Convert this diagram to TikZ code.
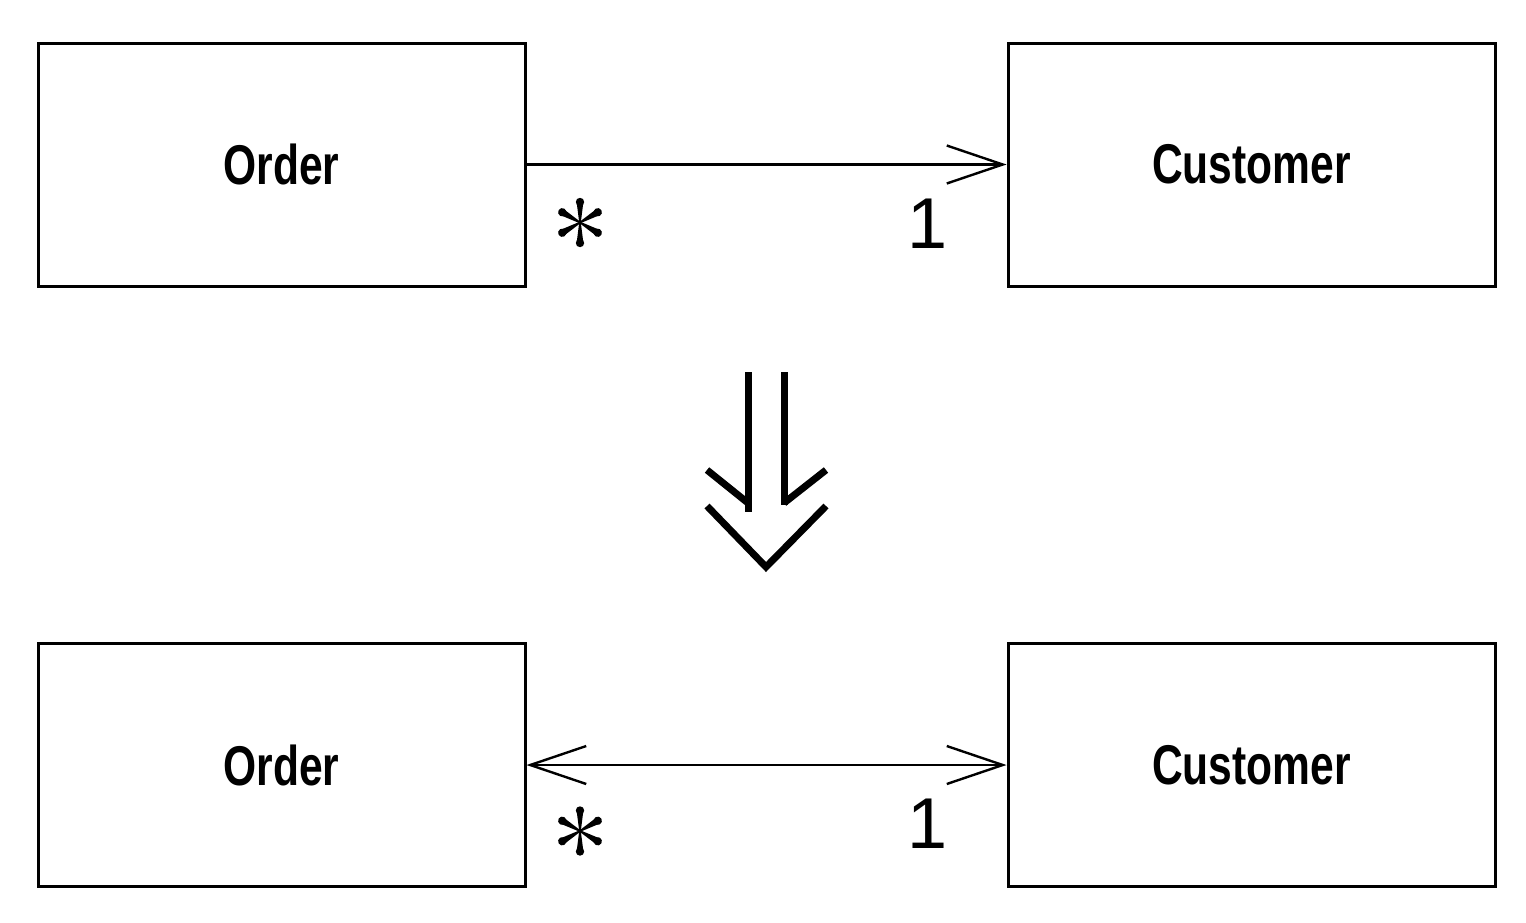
\documentclass[tikz,border=0pt]{standalone}
\usepackage{fontspec}
\setmainfont{Liberation Sans}
\newfontfamily\boxfont[FakeStretch=0.76]{Liberation Sans}
\usetikzlibrary{arrows.meta}
\tikzset{
  cls/.style={draw, line width=1.5pt, minimum width=243.5pt, minimum height=121.5pt, inner sep=0pt,
    font=\boxfont\bfseries\fontsize{28}{28}\selectfont},
  mult/.style={inner sep=0pt, font=\fontsize{36}{36}\selectfont},
  assoc/.style={line width=1.3pt},
  barb/.tip={Straight Barb[length=28pt, width=19pt, line width=1.2pt]},
  big/.style={line width=3.5pt},
  asterisk/.pic={
    \foreach \a in {90,30,-30,150,210,270}{
      \fill[rotate=\a] (0,-0.8) -- (19,-3.2) arc[start angle=-90, end angle=90, radius=3.2] -- (0,0.8) -- cycle;
      \fill[rotate=\a] (20.5,0) circle[radius=4.2];
    }
  }
}
\begin{document}
\begin{tikzpicture}[x=0.5pt, y=-0.5pt]
\useasboundingbox (0,0) rectangle (1526,922);
% top row
\node[cls] (o1) at (281.5,164.5) {Order};
\node[cls] (c1) at (1251.5,164.5) {Customer};
\draw[assoc, -barb] (o1.east) -- (c1.west);
\pic at (580,222.5) {asterisk};
\node[mult] (m1) at (928,224) {1};
% bottom row
\node[cls] (o2) at (281.5,765) {Order};
\node[cls] (c2) at (1251.5,765) {Customer};
\draw[assoc, barb-barb] (o2.east) -- (c2.west);
\pic at (580,831) {asterisk};
\node[mult] (m2) at (928,824) {1};
% refinement arrow
\coordinate (la) at (748,372);
\coordinate (ra) at (784,372);
\draw[big] (la) -- (748,512);
\draw[big] (ra) -- (784,505);
\draw[big] (707,470) -- (748,503);
\draw[big] (826,470) -- (784,503);
\draw[big, line join=miter] (707,506) -- (766,567) -- (826,506);
\end{tikzpicture}
\end{document}
